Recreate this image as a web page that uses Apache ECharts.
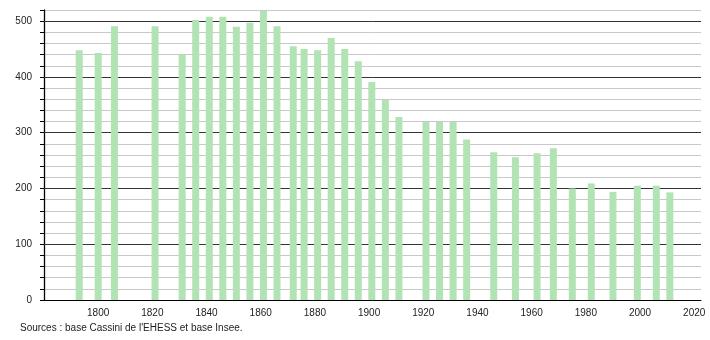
<!DOCTYPE html>
<html>
<head>
<meta charset="utf-8">
<script src="https://cdn.jsdelivr.net/npm/echarts@6/dist/echarts.min.js"></script>
<style>
html,body{margin:0;padding:0;background:#fff;}
#chart{width:710px;height:340px;}
</style>
</head>
<body>
<div id="chart"></div>
<script>
const years = [1793,1800,1806,1821,1831,1836,1841,1846,1851,1856,1861,1866,1872,1876,1881,1886,1891,1896,1901,1906,1911,1921,1926,1931,1936,1946,1954,1962,1968,1975,1982,1990,1999,2006,2011];
const population = [448,443,491,491,440,502,508,508,490,497,518,491,455,450,448,470,450,428,391,359,328,319,319,319,288,265,256,263,272,200,209,194,205,205,193];
const xTickLabels = [1800,1820,1840,1860,1880,1900,1920,1940,1960,1980,2000,2020];
const yTickLabels = [0,100,200,300,400,500];
const sourceText = "Sources : base Cassini de l'EHESS et base Insee.";

const data = years.map((y, i) => [y, population[i]]);
const font = 'Liberation Sans, Arial, sans-serif';

const chart = echarts.init(document.getElementById('chart'), null, {renderer: 'canvas'});
chart.setOption({
  animation: false,
  backgroundColor: '#ffffff',
  grid: {left: 44, right: 9, top: 10, bottom: 40, containLabel: false},
  xAxis: {
    type: 'value',
    min: 1780,
    max: 2022.5,
    interval: 20,
    axisLine: {show: true, onZero: false, lineStyle: {color: '#000', width: 1}},
    axisTick: {show: false},
    splitLine: {show: false},
    axisLabel: {
      color: '#222', fontSize: 10, fontFamily: font, margin: 8,
      formatter: v => xTickLabels.indexOf(v) >= 0 ? String(v) : ''
    }
  },
  yAxis: [{
    type: 'value',
    min: 0,
    max: 520,
    interval: 20,
    axisLine: {show: true, onZero: false, lineStyle: {color: '#000', width: 1.3}},
    axisTick: {show: true, length: 4, lineStyle: {color: '#000', width: 1}},
    splitLine: {show: true, lineStyle: {color: '#c8c8c8', width: 1}},
    axisLabel: {
      color: '#222', fontSize: 10, fontFamily: font, margin: 12,
      formatter: v => yTickLabels.indexOf(v) >= 0 ? String(v) : ''
    }
  }, {
    type: 'value',
    min: 0,
    max: 520,
    interval: 100,
    position: 'left',
    z: 1,
    axisLine: {show: false},
    axisTick: {show: false},
    axisLabel: {show: false},
    splitLine: {show: true, showMinLine: false, showMaxLine: false, lineStyle: {color: '#333', width: 1}}
  }],
  series: [{
    type: 'bar',
    data: data,
    barWidth: 7,
    z: 3,
    itemStyle: {color: '#b2e3b4'}
  }],
  graphic: [{
    type: 'text',
    left: 20,
    top: 323,
    style: {text: sourceText, fill: '#222', font: '10px Liberation Sans, Arial, sans-serif'}
  }]
});
</script>
</body>
</html>
